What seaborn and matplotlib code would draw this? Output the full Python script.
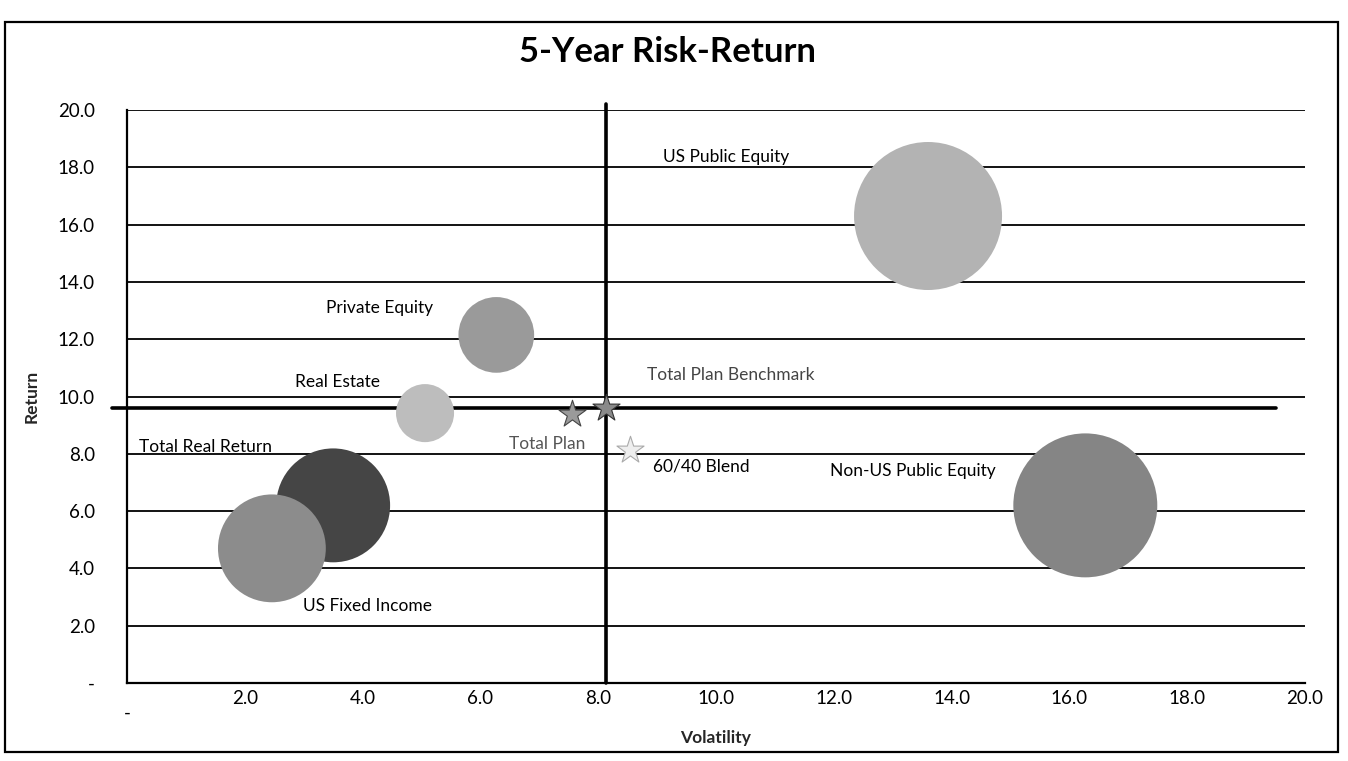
import matplotlib
matplotlib.use("Agg")
import matplotlib.pyplot as plt
import matplotlib.patches as mpatches
import seaborn as sns
import pandas as pd

# Asset classes: 5-year volatility, return and plan weight (bubble area)
assets = ["US Public Equity", "Non-US Public Equity", "Private Equity",
          "Real Estate", "Total Real Return", "US Fixed Income"]
asset_vol = [13.6, 16.27, 6.27, 5.06, 3.50, 2.46]
asset_ret = [16.3, 6.2, 12.15, 9.42, 6.2, 4.7]
asset_weight = [26.0, 24.6, 6.8, 4.0, 15.4, 13.8]

# Plan-level points
plans = ["Total Plan", "Total Plan Benchmark", "60/40 Blend"]
plan_vol = [7.55, 8.13, 8.54]
plan_ret = [9.4, 9.6, 8.13]

x_ticks = [0, 2, 4, 6, 8, 10, 12, 14, 16, 18, 20]
y_ticks = [0, 2, 4, 6, 8, 10, 12, 14, 16, 18, 20]

asset_colors = {
    "US Public Equity": "#b3b3b3",
    "Non-US Public Equity": "#858585",
    "Private Equity": "#9a9a9a",
    "Real Estate": "#bdbdbd",
    "Total Real Return": "#454545",
    "US Fixed Income": "#8c8c8c",
}
plan_colors = {
    "Total Plan": "#9a9a9a",
    "Total Plan Benchmark": "#8a8a8a",
    "60/40 Blend": "#eeeeee",
}
plan_edges = {
    "Total Plan": "#444444",
    "Total Plan Benchmark": "#333333",
    "60/40 Blend": "#aaaaaa",
}

# label offsets in pixels from each mark, and text colour
asset_label_off = {
    "US Public Equity": (-202, 59),
    "Non-US Public Equity": (-172, 34),
    "Private Equity": (-117, 27),
    "Real Estate": (-88, 31),
    "Total Real Return": (-128, 58),
    "US Fixed Income": (96, -58),
}
plan_label_off = {
    "Total Plan": (-25, -30),
    "Total Plan Benchmark": (125, 33),
    "60/40 Blend": (71, -16),
}
plan_label_color = {
    "Total Plan": "#555555",
    "Total Plan Benchmark": "#444444",
    "60/40 Blend": "#000000",
}

sns.set_style("white")
plt.rcParams["font.family"] = ["Lato", "DejaVu Sans"]
plt.rcParams["text.color"] = "black"

fig = plt.figure(figsize=(13.48, 7.61), dpi=100)
ax = fig.add_axes([127 / 1348, 1 - 683 / 761, (1305 - 127) / 1348, (683 - 110) / 761])

df_assets = pd.DataFrame({"asset": assets, "vol": asset_vol,
                          "ret": asset_ret, "weight": asset_weight})
df_plans = pd.DataFrame({"plan": plans, "vol": plan_vol, "ret": plan_ret})

# horizontal grid lines
for yv in y_ticks[1:]:
    ax.axhline(yv, color="black", lw=1.3, zorder=1)

# crosshair through the benchmark
bx, by = plan_vol[1], plan_ret[1]
ax.plot([-0.25, 19.5], [by, by], color="black", lw=2.6, zorder=2, clip_on=False)
ax.plot([bx, bx], [0, 20.2], color="black", lw=2.6, zorder=2, clip_on=False)

max_s = (2 * 74 * 72 / 100) ** 2
sns.scatterplot(data=df_assets, x="vol", y="ret", hue="asset", palette=asset_colors,
                size="weight", sizes=(0, max_s), size_norm=(0, max(asset_weight)),
                edgecolor="none", alpha=1.0, legend=False, ax=ax, zorder=3)

for p in plans:
    sub = df_plans[df_plans["plan"] == p]
    sns.scatterplot(data=sub, x="vol", y="ret", marker="*", s=420,
                    color=plan_colors[p], edgecolor=plan_edges[p], linewidth=0.8,
                    legend=False, ax=ax, zorder=4)

for a, xv, yv in zip(assets, asset_vol, asset_ret):
    ax.annotate(a, (xv, yv), xytext=asset_label_off[a], textcoords="offset pixels",
                ha="center", va="center", fontsize=12.5, color="black", zorder=5)
for p, xv, yv in zip(plans, plan_vol, plan_ret):
    ax.annotate(p, (xv, yv), xytext=plan_label_off[p], textcoords="offset pixels",
                ha="center", va="center", fontsize=12.5, color=plan_label_color[p], zorder=5)

ax.set_xlim(0, 20)
ax.set_ylim(0, 20)
ax.set_xticks(x_ticks)
ax.set_yticks(y_ticks)
fmt = lambda v: "-" if v == 0 else f"{v:.1f}"
ax.set_xticklabels([fmt(v) for v in x_ticks])
ax.set_yticklabels([fmt(v) for v in y_ticks])
ax.tick_params(axis="both", labelsize=13.5, colors="black", width=1.2)
ax.tick_params(axis="x", direction="inout", length=6, pad=2)
ax.tick_params(axis="y", direction="out", length=9, pad=14)
# the zero label on the volatility axis sits a little lower
ax.get_xticklabels()[0].set_y(-0.025)
sns.despine(ax=ax, top=True, right=True)
for s in ("left", "bottom"):
    ax.spines[s].set_color("black")
    ax.spines[s].set_linewidth(1.6)
    ax.spines[s].set_zorder(2)

ax.set_xlabel("Volatility", fontsize=12.5, fontweight="bold")
ax.xaxis.set_label_coords(0.5, -0.082)
ax.set_ylabel("Return", fontsize=12.5, fontweight="bold")
ax.yaxis.set_label_coords(-0.074, 0.5)

fig.text(0.495, 1 - 52 / 761, "5-Year Risk-Return", ha="center", va="center",
         fontsize=25, fontweight="bold", color="black")

# outer chart frame
fig.patches.append(mpatches.Rectangle((5 / 1348, 1 - 752 / 761), 1333 / 1348, 730 / 761,
                                      transform=fig.transFigure, fill=False,
                                      edgecolor="black", lw=1.6))

fig.savefig("out.png", dpi=100)
